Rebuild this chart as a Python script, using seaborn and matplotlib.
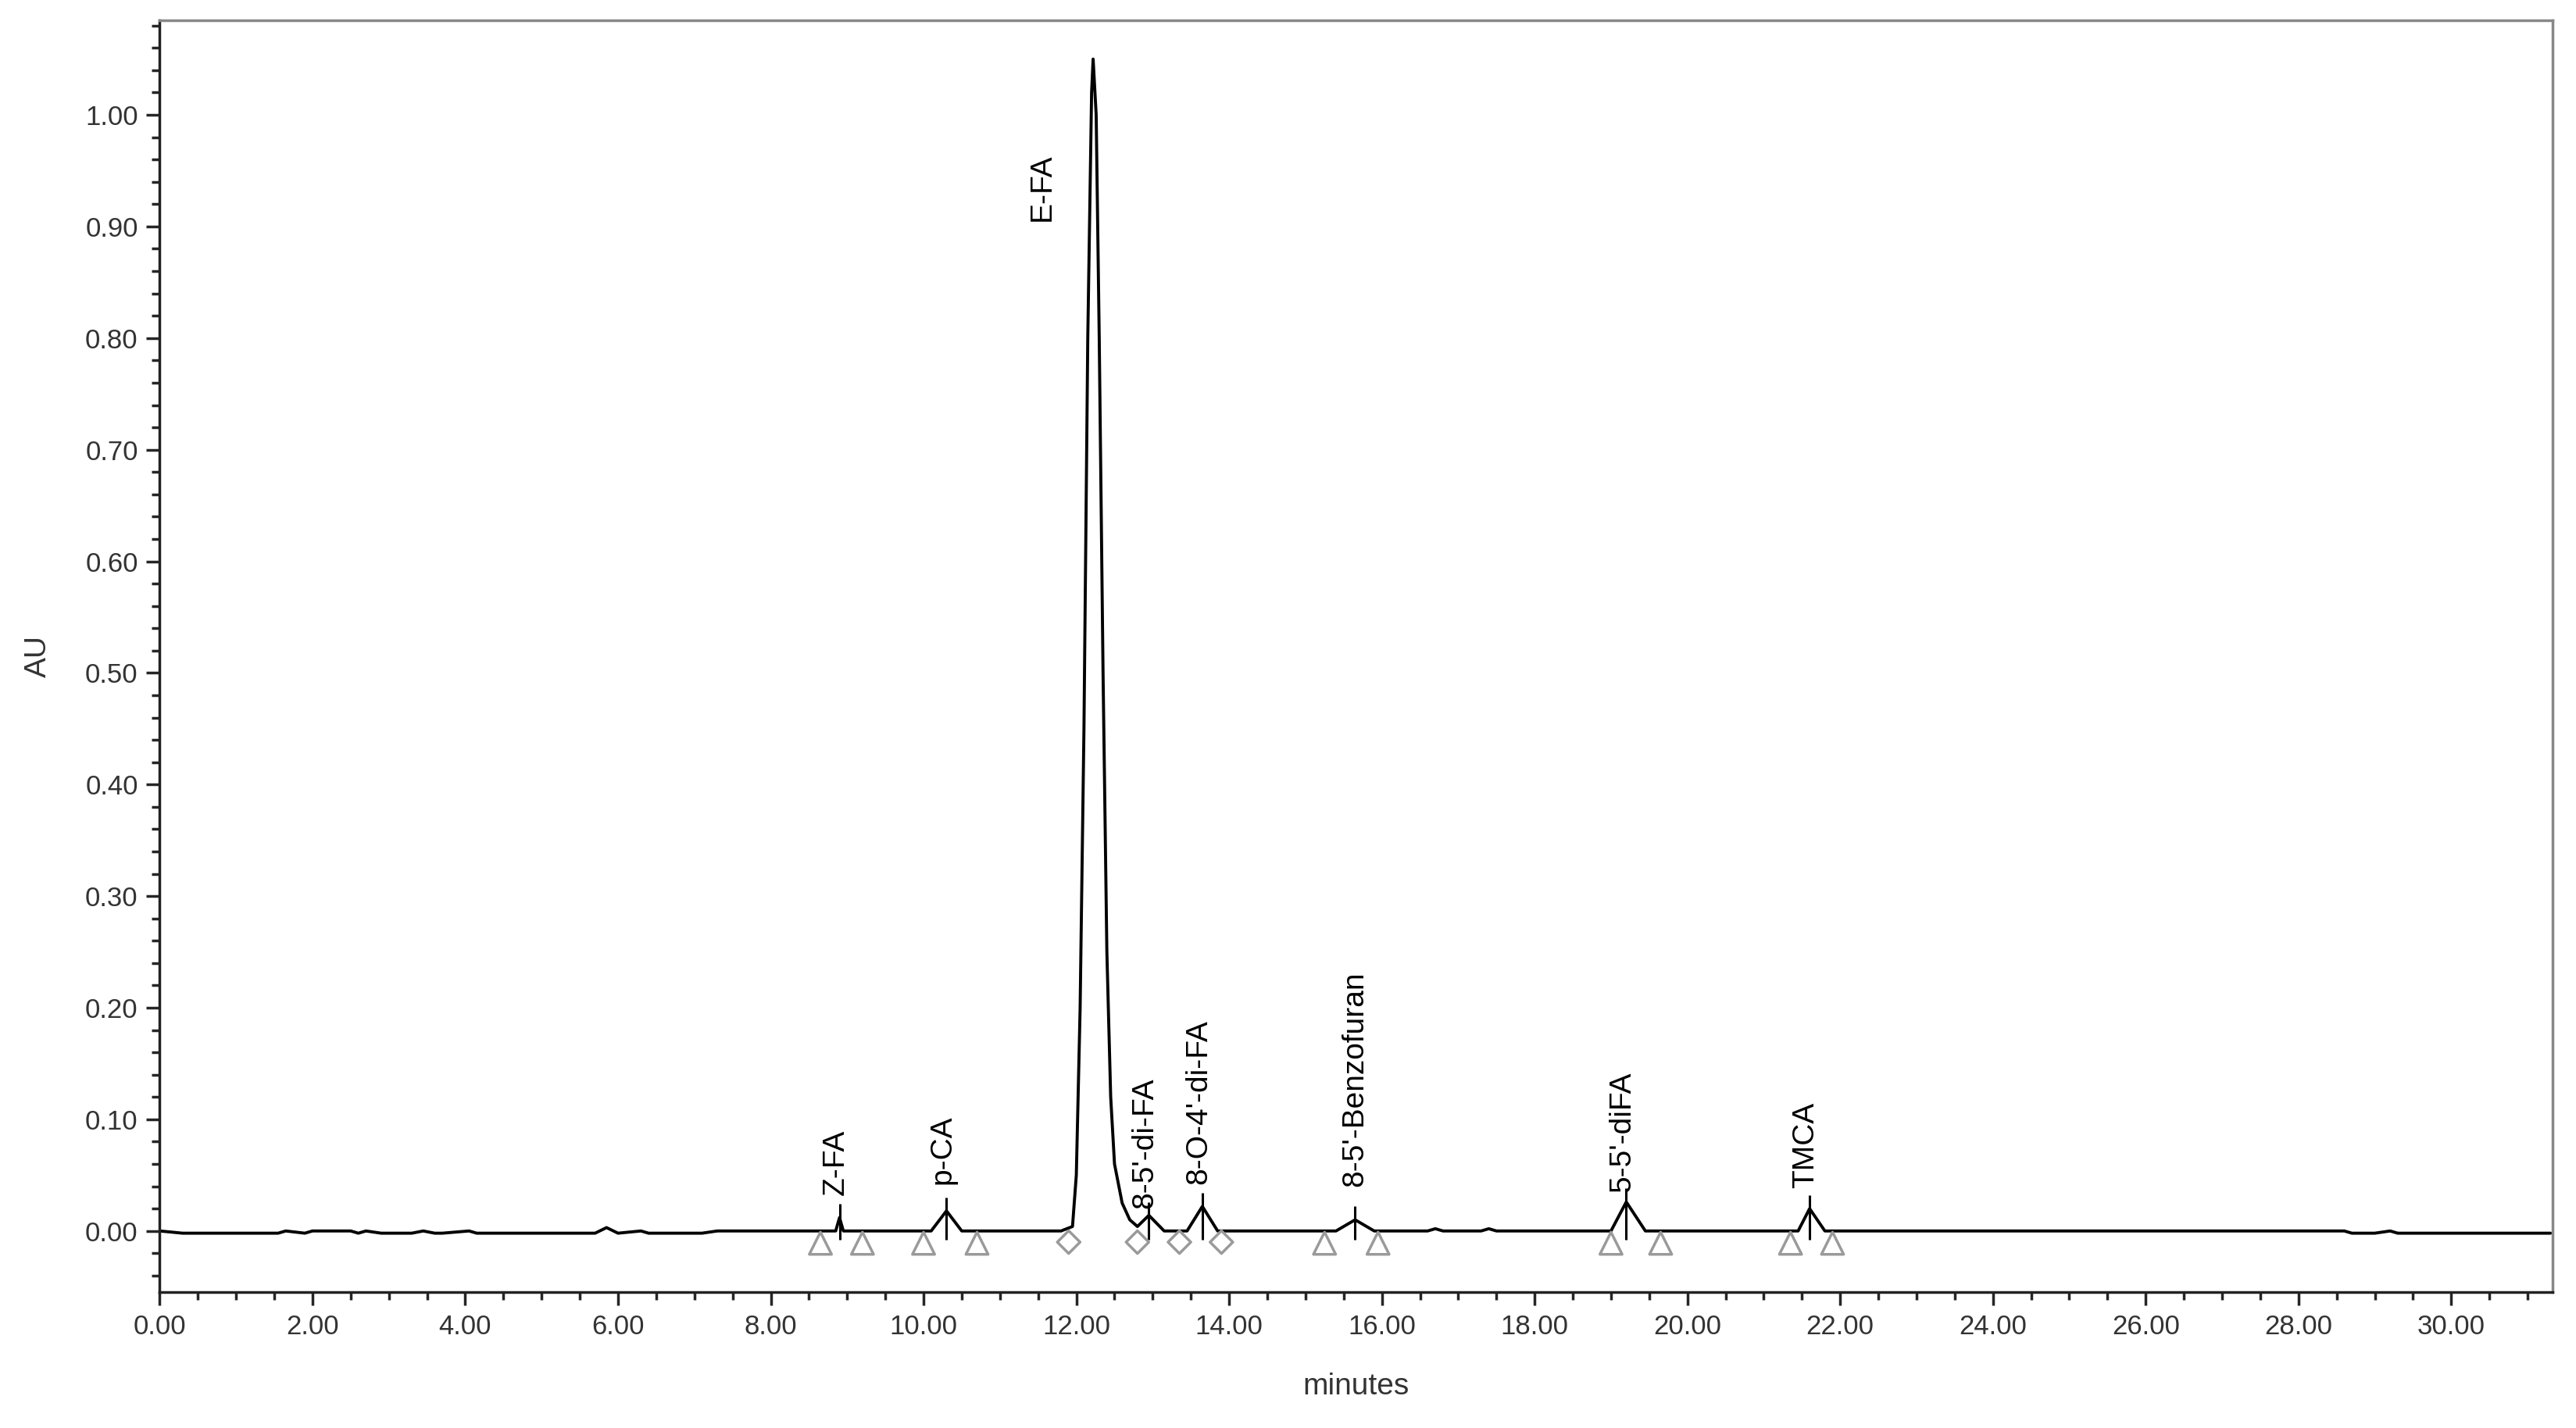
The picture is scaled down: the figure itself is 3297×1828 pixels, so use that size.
import numpy as np
import pandas as pd
import matplotlib
matplotlib.use("Agg")
import matplotlib.pyplot as plt
import seaborn as sns
from matplotlib.ticker import MultipleLocator, FormatStrFormatter

# Chromatogram trace (minutes, AU)
time = [0.0, 0.15, 0.3, 1.55, 1.65, 1.9, 2.0, 2.5, 2.6, 2.7, 2.9, 3.1, 3.3, 3.45, 3.6, 3.7, 4.05, 4.15, 4.6,
        4.7, 5.7, 5.85, 6.0, 6.3, 6.4, 7.1, 7.3, 8.6, 8.85, 8.9, 8.95, 9.1, 10.1, 10.3, 10.5, 11.8, 11.95,
        12.0, 12.05, 12.1, 12.15, 12.2, 12.22, 12.26, 12.3, 12.35, 12.4, 12.45, 12.5, 12.6, 12.7, 12.8,
        12.95, 13.15, 13.45, 13.65, 13.85, 15.4, 15.65, 15.9, 16.6, 16.7, 16.8, 17.3, 17.4, 17.5, 19.0,
        19.2, 19.45, 21.45, 21.6, 21.8, 28.6, 28.7, 29.0, 29.2, 29.3, 31.3]
au = [0.0, -0.001, -0.002, -0.002, 0.0, -0.002, 0.0, 0.0, -0.002, 0.0, -0.002, -0.002, -0.002, 0.0,
      -0.002, -0.002, 0.0, -0.002, -0.002, -0.002, -0.002, 0.003, -0.002, 0.0, -0.002, -0.002, 0.0, 0.0,
      0.0, 0.012, 0.0, 0.0, 0.0, 0.018, 0.0, 0.0, 0.004, 0.05, 0.2, 0.45, 0.8, 1.02, 1.05, 1.0, 0.8, 0.5,
      0.25, 0.12, 0.06, 0.025, 0.01, 0.004, 0.014, 0.0, 0.0, 0.022, 0.0, 0.0, 0.01, 0.0, 0.0, 0.002, 0.0,
      0.0, 0.002, 0.0, 0.0, 0.026, 0.0, 0.0, 0.02, 0.0, 0.0, -0.002, -0.002, 0.0, -0.002, -0.002]

# Peak names, apex times and label positions
peak_names = ["Z-FA", "p-CA", "E-FA", "8-5'-di-FA", "8-O-4'-di-FA", "8-5'-Benzofuran", "5-5'-diFA", "TMCA"]
peak_times = [8.9, 10.3, 12.22, 12.95, 13.65, 15.65, 19.2, 21.6]
peak_heights = [0.012, 0.018, 1.05, 0.014, 0.022, 0.01, 0.026, 0.02]
label_y = [0.032, 0.042, 0.905, 0.02, 0.042, 0.04, 0.035, 0.038]
label_x = [8.85, 10.25, 11.55, 12.9, 13.6, 15.65, 19.15, 21.55]

# Integration start/end marks
triangle_times = [8.65, 9.2, 10.0, 10.7, 15.25, 15.95, 19.0, 19.65, 21.35, 21.9]
diamond_times = [11.9, 12.8, 13.35, 13.9]

df = pd.DataFrame({"minutes": time, "AU": au})

sns.set_style("ticks")
plt.rcParams["font.family"] = ["Liberation Sans", "DejaVu Sans"]

fig = plt.figure(figsize=(32.97, 18.28), dpi=100)
ax = fig.add_axes([0.062, 0.095, 0.929, 0.891])

sns.lineplot(data=df, x="minutes", y="AU", color="black", linewidth=2.8, ax=ax, estimator=None, sort=False)

ax.scatter(triangle_times, [-0.011] * len(triangle_times), marker="^", s=420,
           facecolors="none", edgecolors="#9a9a9a", linewidths=2.5, zorder=3)
ax.scatter(diamond_times, [-0.010] * len(diamond_times), marker="D", s=220,
           facecolors="none", edgecolors="#9a9a9a", linewidths=2.5, zorder=3)

for name, t, h, lx, ly in zip(peak_names, peak_times, peak_heights, label_x, label_y):
    if name != "E-FA":
        ax.vlines(t, -0.008, h + 0.012, color="black", linewidth=2.2)
    ax.text(lx, ly, name, rotation=90, ha="center", va="bottom", fontsize=28, color="black")

ax.set_xlim(0, 31.33)
ax.set_ylim(-0.055, 1.085)
ax.xaxis.set_major_locator(MultipleLocator(2))
ax.xaxis.set_minor_locator(MultipleLocator(0.5))
ax.yaxis.set_major_locator(MultipleLocator(0.1))
ax.yaxis.set_minor_locator(MultipleLocator(0.02))
ax.xaxis.set_major_formatter(FormatStrFormatter("%.2f"))
ax.yaxis.set_major_formatter(FormatStrFormatter("%.2f"))
ax.tick_params(which="major", length=12, width=2.5, labelsize=25, labelcolor="#333333", pad=8)
ax.tick_params(which="minor", length=7, width=2.5)
for sp in ax.spines.values():
    sp.set_linewidth(2.5)
    sp.set_color("#222222")
ax.spines["right"].set_color("#888888")
ax.spines["top"].set_color("#888888")

ax.set_xlabel("minutes", fontsize=28, color="#333333", labelpad=30)
ax.set_ylabel("AU", fontsize=28, color="#333333", labelpad=30)

fig.savefig("out.png", dpi=100)
